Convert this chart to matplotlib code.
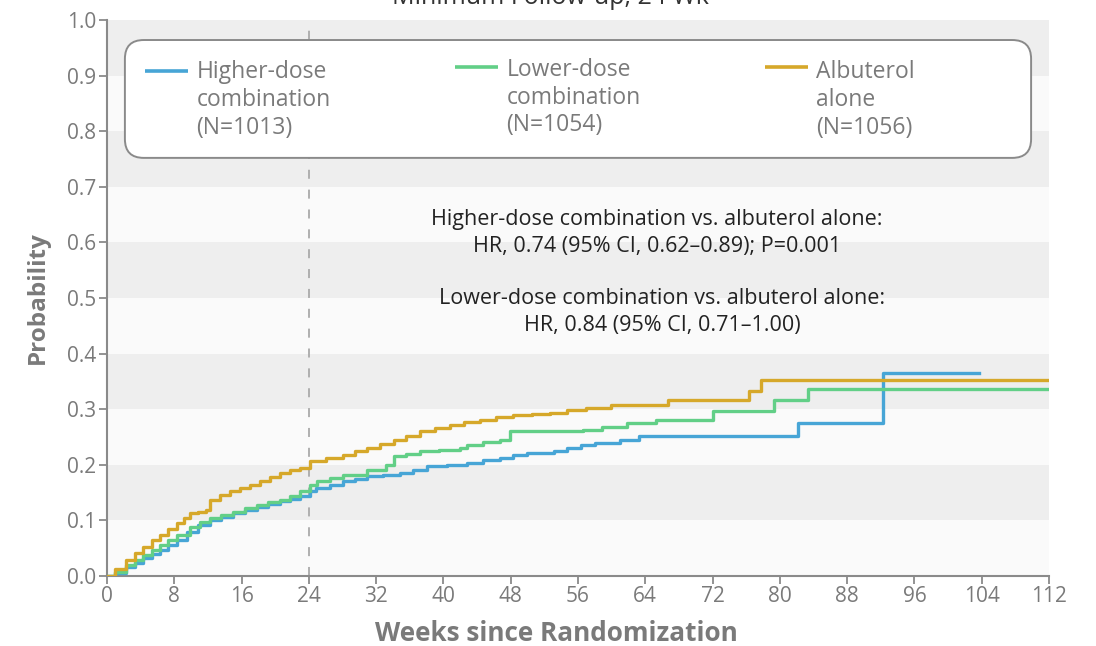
import matplotlib
matplotlib.use("Agg")
import matplotlib.pyplot as plt
from matplotlib.patches import FancyBboxPatch

# cumulative probability curves (weeks, probability)
high_weeks = [0, 1, 2.3, 3.3, 4.3, 5.3, 6.3, 7.3, 8.3, 9.5, 10.8, 12.2, 13.6, 15, 16.4,
              17.8, 19.2, 20.6, 21.8, 22.9, 24.1, 24.9, 26.5, 28.1, 29.5, 30.9, 32.8,
              34.8, 36.4, 38, 40.4, 42.8, 44.7, 46.7, 48.3, 49.9, 53.1, 54.7, 56.4, 58,
              61, 63.2, 82.2, 92.3, 103.7]
high_prob = [0, 0.006, 0.017, 0.024, 0.032, 0.039, 0.047, 0.056, 0.065, 0.080, 0.091,
             0.101, 0.107, 0.113, 0.119, 0.125, 0.130, 0.134, 0.139, 0.143, 0.152, 0.158,
             0.164, 0.170, 0.175, 0.179, 0.182, 0.185, 0.191, 0.197, 0.200, 0.203, 0.208,
             0.212, 0.217, 0.221, 0.224, 0.231, 0.236, 0.240, 0.245, 0.252, 0.275, 0.365,
             0.365]

low_weeks = [0, 1, 2.3, 3.3, 4.3, 5.3, 6.3, 7.3, 8.3, 9.9, 11, 12.2, 13.6, 15, 16.4,
             17.8, 19.2, 20.6, 21.8, 22.9, 24.1, 25, 26.5, 28.1, 30.9, 33.2, 34.1, 35.6,
             37.2, 39.5, 42, 42.8, 44.7, 46.7, 47.9, 54.7, 56.6, 58.8, 61.8, 65.3, 72.1,
             79.3, 83.4, 112]
low_prob = [0, 0.008, 0.020, 0.029, 0.038, 0.047, 0.056, 0.065, 0.074, 0.089, 0.097,
            0.104, 0.110, 0.116, 0.122, 0.128, 0.133, 0.137, 0.143, 0.152, 0.164, 0.170,
            0.176, 0.182, 0.191, 0.200, 0.215, 0.220, 0.224, 0.227, 0.230, 0.236, 0.241,
            0.245, 0.260, 0.261, 0.263, 0.268, 0.275, 0.281, 0.297, 0.317, 0.336, 0.336]

alb_weeks = [0, 1, 2.3, 3.3, 4.3, 5.3, 6.3, 7.3, 8.3, 9.1, 9.9, 10.8, 11.8, 12.2, 13.4,
             14.6, 15.8, 17, 18.2, 19.4, 20.6, 21.8, 22.9, 24.1, 26, 28.1, 29.5, 30.9,
             32.5, 34.1, 35.6, 37.2, 39, 40.8, 42.5, 44.3, 46.3, 48.3, 50.5, 52.7, 54.7,
             57, 59.9, 66.7, 76.3, 77.8, 112]
alb_prob = [0, 0.012, 0.029, 0.042, 0.053, 0.064, 0.074, 0.085, 0.095, 0.104, 0.113,
            0.116, 0.119, 0.137, 0.146, 0.152, 0.158, 0.164, 0.170, 0.178, 0.185, 0.190,
            0.194, 0.206, 0.212, 0.218, 0.224, 0.230, 0.238, 0.245, 0.252, 0.260, 0.266,
            0.272, 0.277, 0.281, 0.286, 0.290, 0.292, 0.293, 0.299, 0.302, 0.307, 0.316,
            0.333, 0.352, 0.352]

series_labels = ["Higher-dose\ncombination\n(N=1013)",
                 "Lower-dose\ncombination\n(N=1054)",
                 "Albuterol\nalone\n(N=1056)"]
series_colors = ["#47a5d6", "#62cf87", "#d6a82a"]

x_ticks = list(range(0, 113, 8))
y_ticks = [i / 10 for i in range(11)]

note_high = "Higher-dose combination vs. albuterol alone:\nHR, 0.74 (95% CI, 0.62\u20130.89); P=0.001"
note_low = "Lower-dose combination vs. albuterol alone:\nHR, 0.84 (95% CI, 0.71\u20131.00)"

plt.rcParams["font.family"] = ["Open Sans", "DejaVu Sans"]
grey = "#7a7a7a"

fig = plt.figure(figsize=(10.96, 6.46), dpi=100)
ax = fig.add_axes([107 / 1096, 70 / 646, 942 / 1096, 556 / 646])
ax.set_xlim(0, 112)
ax.set_ylim(0, 1.0)
ax.set_facecolor("#fafafa")

for lo in [0.1, 0.3, 0.5, 0.7, 0.9]:
    ax.axhspan(lo, lo + 0.1, color="#eeeeee", lw=0, zorder=0)

ax.axvline(24, color="#aaaaaa", lw=1.3, ls=(0, (5, 6)), zorder=1)

curves = [(high_weeks, high_prob), (low_weeks, low_prob), (alb_weeks, alb_prob)]
for (wk, pr), col in zip(curves, series_colors):
    ax.plot(wk, pr, drawstyle="steps-post", color=col, lw=2.4, zorder=3)

for side in ["top", "right"]:
    ax.spines[side].set_visible(False)
for side in ["left", "bottom"]:
    ax.spines[side].set_color("#8a8a8a")
    ax.spines[side].set_linewidth(1.5)

ax.set_xticks(x_ticks)
ax.set_yticks(y_ticks)
ax.set_yticklabels([f"{v:.1f}" for v in y_ticks])
ax.tick_params(direction="out", length=6, width=1.3, color="#8a8a8a",
               labelcolor=grey, labelsize=15)
ax.tick_params(axis="y", pad=2)
ax.tick_params(axis="x", pad=1)

ax.set_xlabel("Weeks since Randomization", fontsize=18.8, fontweight="bold", color=grey)
ax.xaxis.set_label_coords(0.477, -0.080)
ax.set_ylabel("Probability", fontsize=17.5, fontweight="bold", color=grey)
ax.yaxis.set_label_coords(-0.061, 0.5)

# legend box
box = FancyBboxPatch((0.019, 0.752), 0.962, 0.212, transform=ax.transAxes,
                     boxstyle="round,pad=0,rounding_size=0.02", facecolor="white",
                     edgecolor="#8a8a8a", lw=1.4, zorder=4,
                     mutation_aspect=942 / 556)
ax.add_patch(box)

leg_x = [0.040, 0.369, 0.698]
leg_line_y = [0.908, 0.915, 0.915]
leg_text_y = [0.856, 0.860, 0.856]
for lx, ly, ty, lab, col in zip(leg_x, leg_line_y, leg_text_y, series_labels, series_colors):
    ax.plot([lx, lx + 0.046], [ly, ly], color=col, lw=2.6, transform=ax.transAxes,
            zorder=5, solid_capstyle="butt")
    ax.text(lx + 0.055, ty, lab, transform=ax.transAxes, fontsize=16.5, color=grey,
            va="center", ha="left", linespacing=1.2, zorder=5)

ax.text(65.4, 0.617, note_high, ha="center", va="center", fontsize=15.5,
        color="#222222", linespacing=1.4, multialignment="center", zorder=5)
ax.text(66.0, 0.475, note_low, ha="center", va="center", fontsize=15.5,
        color="#222222", linespacing=1.4, multialignment="center", zorder=5)

fig.text(0.502, 0.994, "Minimum Follow-up, 24 Wk", ha="center", va="baseline",
         fontsize=18, color="#333333")

fig.savefig("out.png", dpi=100, facecolor="white")
